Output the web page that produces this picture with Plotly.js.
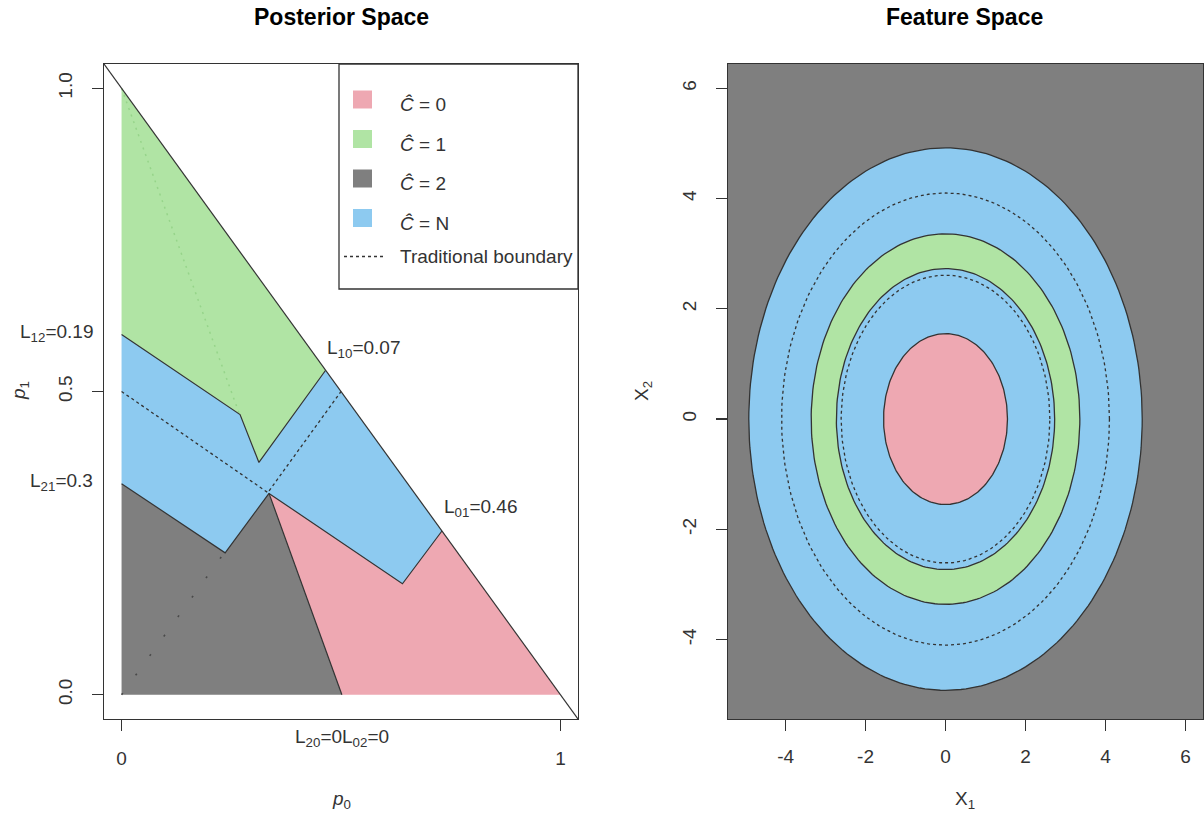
<!DOCTYPE html>
<html><head><meta charset="utf-8">
<script src="https://cdn.plot.ly/plotly-3.0.1.min.js"></script>
<style>html,body{margin:0;padding:0;background:#fff}#chart{width:1204px;height:818px}</style>
</head><body><div id="chart"></div>
<script>
// ---------------- DATA ----------------
// Posterior space: decision regions (p0, p1 vertices)
const c0P0 = [0.336, 0.640, 0.730, 1.000, 0.502];
const c0P1 = [0.332, 0.183, 0.270, 0.000, 0.000];
const c1P0 = [0.000, 0.465, 0.313, 0.270, 0.000];
const c1P1 = [1.000, 0.535, 0.383, 0.462, 0.594];
const c2P0 = [0.000, 0.236, 0.336, 0.502, 0.000];
const c2P1 = [0.348, 0.234, 0.332, 0.000, 0.000];
const cNP0 = [0.000, 0.270, 0.313, 0.465, 0.730, 0.640, 0.336, 0.236, 0.000];
const cNP1 = [0.594, 0.462, 0.383, 0.535, 0.270, 0.183, 0.332, 0.234, 0.348];
// region boundaries drawn as solid lines
const bnd1P0 = [0.000, 0.270, 0.313, 0.465], bnd1P1 = [0.594, 0.462, 0.383, 0.535];
const bnd2P0 = [0.000, 0.236, 0.336],        bnd2P1 = [0.348, 0.234, 0.332];
const bnd3P0 = [0.336, 0.502],               bnd3P1 = [0.332, 0.000];
const bnd4P0 = [0.336, 0.640, 0.730],        bnd4P1 = [0.332, 0.183, 0.270];
// simplex edge p0 + p1 = 1
const edgeP0 = [-0.04, 1.04];
const edgeP1 = edgeP0.map(v => 1 - v);
// traditional boundary
const tradP0 = [0, 1/3, 0.5],  tradP1 = [0.5, 1/3, 0.5];
const trad2P0 = [0, 1/3],      trad2P1 = [0, 1/3];
const trad3P0 = [0, 1/3],      trad3P1 = [1, 1/3];
// loss labels
const lossNames = ['L12','L21','L10','L01','L20','L02'];
const lossValues = [0.19, 0.3, 0.07, 0.46, 0, 0];
// legend labels
const classLabels = ['0', '1', '2', 'N'];
// Feature space: circular decision boundaries (radius), inner fills
const featRadii = [4.92, 3.36, 2.73, 1.55];
const featClass = ['N', '1', 'N', '0'];
const tradRadii = [4.10, 2.61];
// ticks
const leftXTicks = [0, 1], leftYTicks = [0, 0.5, 1];
const leftYText = ['0.0', '0.5', '1.0'];
const featTicks = [-4, -2, 0, 2, 4, 6];

// ---------------- STYLE ----------------
const W = 1204, H = 818;
const COL = {'0': '#EEA8B2', '1': '#B0E4A4', '2': '#7F7F7F', 'N': '#8DCAF0'};
const INK = '#333333';
const FONT = 'Liberation Sans, Arial, sans-serif';
const px = v => v / W, py = v => 1 - v / H;

const traces = [];
function poly(x, y, cls, xa, ya) {
  traces.push({type: 'scatter', mode: 'lines', x: x.concat([x[0]]), y: y.concat([y[0]]),
    fill: 'toself', fillcolor: COL[cls], line: {width: 0, color: COL[cls]},
    xaxis: xa, yaxis: ya, hoverinfo: 'skip'});
}
function line(x, y, color, width, dash, xa, ya) {
  traces.push({type: 'scatter', mode: 'lines', x: x, y: y,
    line: {color: color, width: width, dash: dash || 'solid'},
    xaxis: xa, yaxis: ya, hoverinfo: 'skip'});
}
// left
poly(c0P0, c0P1, '0', 'x', 'y');
poly(c1P0, c1P1, '1', 'x', 'y');
poly(c2P0, c2P1, '2', 'x', 'y');
line(trad3P0, trad3P1, '#96D48A', 1.5, '2px,5px', 'x', 'y');
line(trad2P0, trad2P1, '#4a4a4a', 1.6, '2px,22px', 'x', 'y');
poly(cNP0, cNP1, 'N', 'x', 'y');
line(bnd1P0, bnd1P1, INK, 1.2, null, 'x', 'y');
line(bnd2P0, bnd2P1, INK, 1.2, null, 'x', 'y');
line(bnd3P0, bnd3P1, INK, 1.2, null, 'x', 'y');
line(bnd4P0, bnd4P1, INK, 1.2, null, 'x', 'y');
line(tradP0, tradP1, INK, 1.3, 'dot', 'x', 'y');
line(edgeP0, edgeP1, INK, 1.2, null, 'x', 'y');

// right
const NPT = 240;
const ang = Array.from({length: NPT + 1}, (_, i) => 2 * Math.PI * i / NPT);
featRadii.forEach((r, i) => {
  traces.push({type: 'scatter', mode: 'lines',
    x: ang.map(a => r * Math.cos(a)), y: ang.map(a => r * Math.sin(a)),
    fill: 'toself', fillcolor: COL[featClass[i]], line: {color: INK, width: 1.3},
    xaxis: 'x2', yaxis: 'y2', hoverinfo: 'skip'});
});
tradRadii.forEach(r => {
  traces.push({type: 'scatter', mode: 'lines',
    x: ang.map(a => r * Math.cos(a)), y: ang.map(a => r * Math.sin(a)),
    line: {color: INK, width: 1.3, dash: 'dot'},
    xaxis: 'x2', yaxis: 'y2', hoverinfo: 'skip'});
});

// ---------------- LAYOUT ----------------
const yDom = [1 - 719 / H, 1 - 64 / H];
const axBase = {showgrid: false, zeroline: false, showline: true, mirror: true,
  linecolor: INK, linewidth: 1.3, ticks: 'outside', ticklen: 11, tickwidth: 1.3,
  tickcolor: INK, tickfont: {family: FONT, size: 19, color: INK}, fixedrange: true};
const layout = {
  width: W, height: H, margin: {l: 0, r: 0, t: 0, b: 0},
  paper_bgcolor: '#fff', plot_bgcolor: '#fff', showlegend: false, hovermode: false,
  xaxis: Object.assign({}, axBase, {domain: [104 / W, 578 / W], range: [-0.04, 1.04],
    tickvals: leftXTicks, ticktext: leftXTicks.map(String), ticklabelstandoff: 11, anchor: 'y'}),
  yaxis: Object.assign({}, axBase, {domain: yDom, range: [-0.04, 1.04],
    tickvals: leftYTicks, ticktext: leftYText, tickangle: -90, ticklabelstandoff: 12, anchor: 'x'}),
  xaxis2: Object.assign({}, axBase, {domain: [728 / W, 1203 / W], range: [-5.44, 6.44],
    tickvals: featTicks, ticktext: featTicks.map(String), ticklabelstandoff: 9, anchor: 'y2'}),
  yaxis2: Object.assign({}, axBase, {domain: yDom, range: [-5.44, 6.44],
    tickvals: featTicks, ticktext: featTicks.map(String), tickangle: -90, ticklabelstandoff: 12, anchor: 'x2'}),
  shapes: [
    {type: 'rect', xref: 'x2 domain', yref: 'y2 domain', x0: 0, x1: 1, y0: 0, y1: 1,
     fillcolor: COL['2'], line: {width: 0}, layer: 'below'},
    // legend box
    {type: 'rect', xref: 'paper', yref: 'paper', x0: px(339), x1: px(578), y0: py(289), y1: py(64),
     fillcolor: 'rgba(0,0,0,0)', line: {color: INK, width: 1.3}}
  ],
  annotations: []
};
const ann = (text, x, y, opts) => layout.annotations.push(Object.assign({
  text: text, xref: 'paper', yref: 'paper', x: px(x), y: py(y), showarrow: false,
  xanchor: 'center', yanchor: 'middle', font: {family: FONT, size: 19, color: INK}}, opts || {}));

ann('<b>Posterior Space</b>', 341, 17, {font: {family: FONT, size: 23, color: '#000'}});
ann('<b>Feature Space</b>', 965, 17, {font: {family: FONT, size: 23, color: '#000'}});
ann('<i>p</i><sub>0</sub>', 341, 800);
ann('<i>p</i><sub>1</sub>', 20, 391, {textangle: -90});
ann('X<sub>1</sub>', 965, 800);
ann('X<sub>2</sub>', 643, 391, {textangle: -90});
const lossText = i => 'L<sub>' + lossNames[i].slice(1) + '</sub>=' + lossValues[i];
ann(lossText(0), 95, 333, {xanchor: 'right'});
ann(lossText(1), 95, 482, {xanchor: 'right'});
ann(lossText(2), 325, 349, {xanchor: 'left'});
ann(lossText(3), 442, 508, {xanchor: 'left'});
ann(lossText(4) + lossText(5), 341.5, 738);

// legend entries
const legOrder = ['0', '1', '2', 'N'];
legOrder.forEach((c, i) => {
  const cy = 99.5 + i * 39.5;
  layout.shapes.push({type: 'rect', xref: 'paper', yref: 'paper', x0: px(353), x1: px(372),
    y0: py(cy + 9), y1: py(cy - 9), fillcolor: COL[c], line: {width: 0}});
  ann('<i>Ĉ</i> = ' + classLabels[i], 398, cy + 5, {xanchor: 'left'});
});
layout.shapes.push({type: 'line', xref: 'paper', yref: 'paper', x0: px(344), x1: px(383),
  y0: py(256.5), y1: py(256.5), line: {color: INK, width: 1.3, dash: 'dot'}});
ann('Traditional boundary', 398, 256.5, {xanchor: 'left'});

Plotly.newPlot('chart', traces, layout, {staticPlot: true, displayModeBar: false});
</script></body></html>
